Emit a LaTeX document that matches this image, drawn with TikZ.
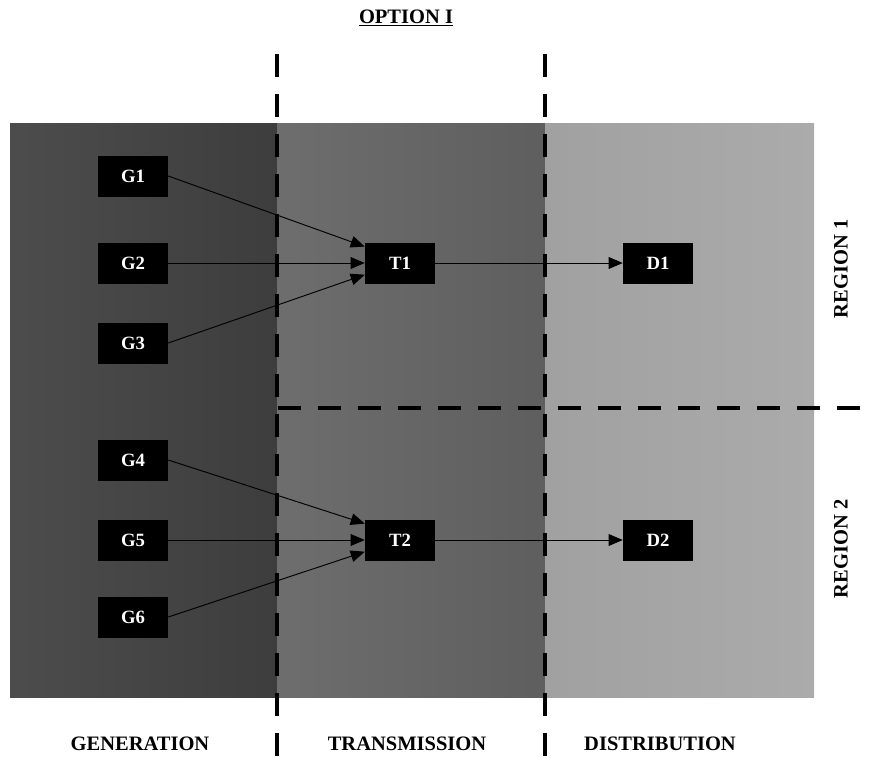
\documentclass[tikz,border=0pt]{standalone}
\usepackage{fontspec}
\setmainfont{Liberation Serif}
\usetikzlibrary{arrows.meta}
\tikzset{
  unit/.style={fill=black,text=white,minimum width=2.1cm,minimum height=1.23cm,inner sep=0pt,font=\bfseries\fontsize{16}{18}\selectfont},
  feed/.style={line width=0.8pt,-{Triangle[length=12pt,width=10pt]}},
  border/.style={line width=4pt,dash pattern=on 19.6pt off 14.5pt},
  title/.style={font=\bfseries\fontsize{17.5}{20}\selectfont}
}
\begin{document}
\begin{tikzpicture}[x=0.03cm,y=-0.03cm]
	\useasboundingbox (0,0) rectangle (873,758);
	% the three sectors
	\shade[left color=black!70,right color=black!76] (10,123) rectangle (277,697);
	\shade[left color=black!57,right color=black!63] (277,123) rectangle (545,697);
	\shade[left color=black!37,right color=black!33] (545,123) rectangle (814,697);
	% borders
	\draw[border] (277,54) -- (277,758);
	\draw[border] (545,54) -- (545,758);
	\draw[border] (278,408) -- (873,408);
	% units
	\foreach \n/\y in {1/176,2/263,3/343,4/460,5/540,6/617}
		\node[unit] (G\n) at (133,\y) {G\n};
	\node[unit] (T1) at (400,263) {T1};
	\node[unit] (T2) at (400,540) {T2};
	\node[unit] (D1) at (658,263) {D1};
	\node[unit] (D2) at (658,540) {D2};
	% flows
	\draw[feed] (G1.east) -- ([yshift=14pt]T1.west);
	\draw[feed] (G2.east) -- (T1.west);
	\draw[feed] (G3.east) -- ([yshift=-10pt]T1.west);
	\draw[feed] (G4.east) -- ([yshift=14pt]T2.west);
	\draw[feed] (G5.east) -- (T2.west);
	\draw[feed] (G6.east) -- ([yshift=-10pt]T2.west);
	\draw[feed] (T1) -- (D1);
	\draw[feed] (T2) -- (D2);
	% labels
	\node[title] (opt) at (406,18) {\underline{OPTION I}};
	\node[title,rotate=90] (reg1) at (841,269) {REGION 1};
	\node[title,rotate=90] (reg2) at (841,549) {REGION 2};
	\node[title] (gen) at (140,744) {GENERATION};
	\node[title] (trans) at (407,744) {TRANSMISSION};
	\node[title] (dist) at (660,744) {DISTRIBUTION};
\end{tikzpicture}
\end{document}
